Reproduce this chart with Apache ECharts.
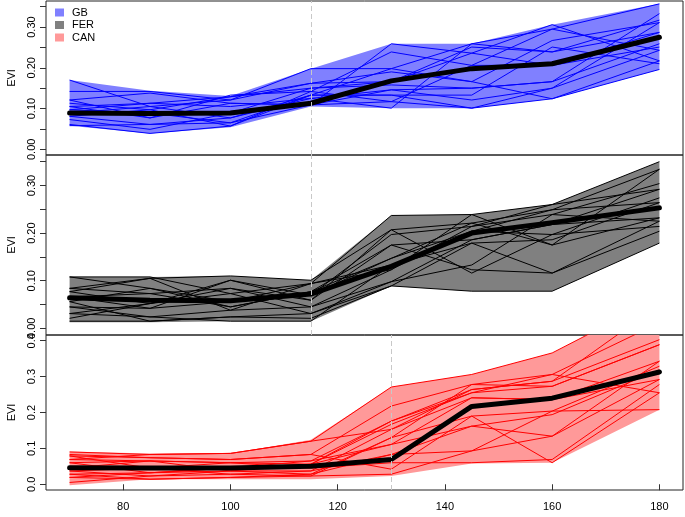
<!DOCTYPE html>
<html>
<head>
<meta charset="utf-8">
<script src="https://cdn.jsdelivr.net/npm/echarts@6/dist/echarts.min.js"></script>
<style>
  html, body { margin: 0; padding: 0; background: #fff; }
  #chart { width: 685px; height: 517px; }
</style>
</head>
<body>
<div id="chart"></div>
<script>
// day of year
const xs = [70, 85, 100, 115, 130, 145, 160, 180];
const xTicks = [80, 100, 120, 140, 160, 180];

// GB
const gbLo = [0.058, 0.039, 0.054, 0.105, 0.101, 0.101, 0.124, 0.196];
const gbHi = [0.170, 0.144, 0.131, 0.198, 0.259, 0.259, 0.306, 0.357];
const gbMean = [0.089, 0.088, 0.089, 0.113, 0.168, 0.198, 0.210, 0.275];
const gbLines = [
  [0.170, 0.105, 0.077, 0.133, 0.198, 0.259, 0.295, 0.357],
  [0.142, 0.142, 0.121, 0.198, 0.198, 0.166, 0.267, 0.311],
  [0.121, 0.138, 0.113, 0.109, 0.259, 0.236, 0.306, 0.217],
  [0.113, 0.097, 0.129, 0.162, 0.166, 0.251, 0.239, 0.287],
  [0.105, 0.077, 0.133, 0.142, 0.239, 0.206, 0.206, 0.251],
  [0.097, 0.113, 0.105, 0.125, 0.146, 0.121, 0.150, 0.243],
  [0.081, 0.061, 0.065, 0.109, 0.117, 0.101, 0.124, 0.196],
  [0.073, 0.049, 0.089, 0.150, 0.158, 0.150, 0.166, 0.259],
  [0.061, 0.039, 0.057, 0.133, 0.133, 0.133, 0.251, 0.210],
  [0.089, 0.105, 0.121, 0.162, 0.190, 0.166, 0.124, 0.217],
  [0.058, 0.061, 0.077, 0.125, 0.101, 0.259, 0.239, 0.317],
  [0.081, 0.097, 0.057, 0.142, 0.117, 0.206, 0.295, 0.243],
  [0.121, 0.077, 0.113, 0.109, 0.146, 0.150, 0.166, 0.333],
  [0.105, 0.113, 0.129, 0.150, 0.166, 0.236, 0.206, 0.287],
  [0.097, 0.089, 0.065, 0.133, 0.133, 0.101, 0.150, 0.311]
];

// FER
const ferLo = [0.013, 0.013, 0.015, 0.015, 0.089, 0.078, 0.078, 0.179];
const ferHi = [0.108, 0.108, 0.110, 0.101, 0.237, 0.239, 0.260, 0.350];
const ferMean = [0.064, 0.059, 0.058, 0.072, 0.130, 0.200, 0.222, 0.253];
const ferLines = [
  [0.108, 0.108, 0.073, 0.094, 0.237, 0.239, 0.260, 0.350],
  [0.084, 0.105, 0.110, 0.101, 0.207, 0.221, 0.249, 0.334],
  [0.077, 0.052, 0.101, 0.070, 0.197, 0.214, 0.239, 0.304],
  [0.066, 0.073, 0.084, 0.059, 0.175, 0.186, 0.218, 0.292],
  [0.056, 0.084, 0.045, 0.077, 0.147, 0.204, 0.197, 0.274],
  [0.045, 0.042, 0.056, 0.094, 0.133, 0.179, 0.186, 0.264],
  [0.031, 0.024, 0.038, 0.045, 0.123, 0.239, 0.175, 0.232],
  [0.021, 0.052, 0.073, 0.031, 0.098, 0.133, 0.239, 0.225],
  [0.015, 0.015, 0.024, 0.021, 0.089, 0.078, 0.078, 0.179],
  [0.084, 0.073, 0.045, 0.077, 0.175, 0.123, 0.116, 0.204],
  [0.066, 0.042, 0.101, 0.059, 0.207, 0.116, 0.197, 0.214],
  [0.045, 0.024, 0.015, 0.015, 0.133, 0.204, 0.249, 0.264],
  [0.108, 0.084, 0.056, 0.070, 0.147, 0.221, 0.175, 0.334],
  [0.031, 0.052, 0.084, 0.045, 0.098, 0.186, 0.218, 0.232],
  [0.077, 0.105, 0.038, 0.094, 0.123, 0.214, 0.260, 0.292],
  [0.056, 0.015, 0.024, 0.031, 0.089, 0.179, 0.116, 0.225]
];

// CAN
const canLo = [-0.003, 0.014, 0.014, 0.014, 0.023, 0.058, 0.060, 0.208];
const canHi = [0.091, 0.086, 0.086, 0.124, 0.271, 0.306, 0.366, 0.520];
const canMean = [0.046, 0.045, 0.045, 0.050, 0.069, 0.217, 0.240, 0.313];
const canLines = [
  [0.090, 0.083, 0.086, 0.120, 0.271, 0.306, 0.366, 0.520],
  [0.079, 0.074, 0.069, 0.083, 0.218, 0.278, 0.306, 0.450],
  [0.069, 0.065, 0.060, 0.065, 0.176, 0.264, 0.287, 0.403],
  [0.060, 0.032, 0.037, 0.056, 0.167, 0.255, 0.273, 0.389],
  [0.037, 0.023, 0.028, 0.037, 0.153, 0.241, 0.236, 0.343],
  [0.028, 0.014, 0.019, 0.023, 0.130, 0.190, 0.204, 0.329],
  [0.019, 0.032, 0.045, 0.056, 0.111, 0.162, 0.194, 0.319],
  [0.005, 0.023, 0.037, 0.028, 0.083, 0.093, 0.134, 0.292],
  [0.060, 0.065, 0.060, 0.045, 0.060, 0.060, 0.069, 0.278],
  [0.083, 0.074, 0.069, 0.083, 0.042, 0.190, 0.060, 0.255],
  [0.037, 0.045, 0.028, 0.023, 0.028, 0.093, 0.204, 0.208],
  [0.069, 0.083, 0.086, 0.120, 0.153, 0.264, 0.287, 0.500],
  [0.028, 0.032, 0.045, 0.065, 0.111, 0.241, 0.236, 0.292],
  [0.045, 0.065, 0.037, 0.037, 0.083, 0.162, 0.134, 0.343],
  [0.019, 0.014, 0.019, 0.028, 0.130, 0.278, 0.273, 0.389],
  [0.079, 0.045, 0.060, 0.056, 0.176, 0.255, 0.306, 0.255]
];

const cuts = [115, 115, 130];
const tickTop = [0, 0.05, 0.10, 0.15, 0.20, 0.25, 0.30, 0.35];
const labelTop = [0, 0.10, 0.20, 0.30];
const tickBottom = [0, 0.1, 0.2, 0.3, 0.4];

const FONT = 'Liberation Sans';

function pts(vals) {
  return xs.map((x, i) => [x, vals[i]]);
}

function panelSeries(idx, name, lo, hi, mean, lines, lineColor, fill) {
  let out = [];
  // min/max envelope as one polygon
  out.push({
    name: name, type: 'custom', xAxisIndex: idx, yAxisIndex: idx,
    clip: true, silent: true,
    itemStyle: { color: fill },
    encode: { x: 0, y: [1, 2] },
    data: xs.map((x, i) => [x, lo[i], hi[i]]),
    renderItem: function (params, api) {
      if (params.dataIndex !== 0) return;
      let top = xs.map((x, i) => api.coord([x, hi[i]]));
      let bot = xs.map((x, i) => api.coord([x, lo[i]])).reverse();
      return {
        type: 'polygon',
        shape: { points: top.concat(bot) },
        style: { fill: fill }
      };
    }
  });
  lines.forEach(l => {
    out.push({
      type: 'line', xAxisIndex: idx, yAxisIndex: idx,
      data: pts(l), symbol: 'none', silent: true,
      lineStyle: { color: lineColor, width: 1 }
    });
  });
  out.push({
    type: 'line', xAxisIndex: idx, yAxisIndex: idx,
    data: pts(mean), symbol: 'none', silent: true,
    lineStyle: { color: '#000', width: 5, cap: 'round', join: 'round' },
    markLine: {
      silent: true, symbol: ['none', 'none'], label: { show: false },
      lineStyle: { color: '#c8c8c8', type: [5, 3], width: 1 },
      data: [{ xAxis: cuts[idx] }]
    }
  });
  return out;
}

function yAxisFor(idx, min, max, ticks, labels, digits) {
  return {
    type: 'value', gridIndex: idx, min: min, max: max,
    name: 'EVI', nameLocation: 'middle', nameGap: 29, nameRotate: 90,
    nameTextStyle: { fontFamily: FONT, fontSize: 11, color: '#000' },
    splitLine: { show: false },
    axisLine: { show: false },
    axisTick: { show: true, length: 6, customValues: ticks, lineStyle: { color: '#333' } },
    axisLabel: {
      customValues: labels, rotate: 90, margin: 9,
      fontFamily: FONT, fontSize: 11, color: '#000',
      formatter: v => v.toFixed(digits)
    }
  };
}

function xAxisFor(idx, showLabels) {
  return {
    type: 'value', gridIndex: idx, min: 65.6, max: 184.4,
    splitLine: { show: false },
    axisLine: { show: false },
    axisTick: { show: showLabels, length: 6, customValues: xTicks, lineStyle: { color: '#333' } },
    axisLabel: {
      show: showLabels, customValues: xTicks, margin: 11,
      fontFamily: FONT, fontSize: 11, color: '#000'
    }
  };
}

const chart = echarts.init(document.getElementById('chart'));
const gridBase = {
  left: 46, width: 637, show: true, borderColor: '#222', borderWidth: 1,
  backgroundColor: 'transparent', containLabel: false, outerBoundsMode: 'none'
};

chart.setOption({
  animation: false,
  backgroundColor: '#fff',
  legend: {
    orient: 'vertical', left: 55, top: 7, itemWidth: 9, itemHeight: 8, itemGap: 1.5,
    selectedMode: false, padding: 0,
    textStyle: { fontFamily: FONT, fontSize: 11, lineHeight: 10, color: '#000', padding: [0, 0, 0, 3] },
    data: [
      { name: 'GB', icon: 'rect', itemStyle: { color: '#8080ff' } },
      { name: 'FER', icon: 'rect', itemStyle: { color: '#808080' } },
      { name: 'CAN', icon: 'rect', itemStyle: { color: '#ff9999' } }
    ]
  },
  grid: [
    Object.assign({ top: 1, height: 154 }, gridBase),
    Object.assign({ top: 155, height: 180 }, gridBase),
    Object.assign({ top: 335, height: 155 }, gridBase)
  ],
  xAxis: [xAxisFor(0, false), xAxisFor(1, false), xAxisFor(2, true)],
  yAxis: [
    yAxisFor(0, -0.014, 0.364, tickTop, labelTop, 2),
    yAxisFor(1, -0.014, 0.364, tickTop, labelTop, 2),
    yAxisFor(2, -0.016, 0.416, tickBottom, tickBottom, 1)
  ],
  series: [].concat(
    panelSeries(0, 'GB', gbLo, gbHi, gbMean, gbLines, '#0000ff', '#8080ff'),
    panelSeries(1, 'FER', ferLo, ferHi, ferMean, ferLines, '#000000', '#808080'),
    panelSeries(2, 'CAN', canLo, canHi, canMean, canLines, '#ff0000', '#ff9999')
  )
});
</script>
</body>
</html>
